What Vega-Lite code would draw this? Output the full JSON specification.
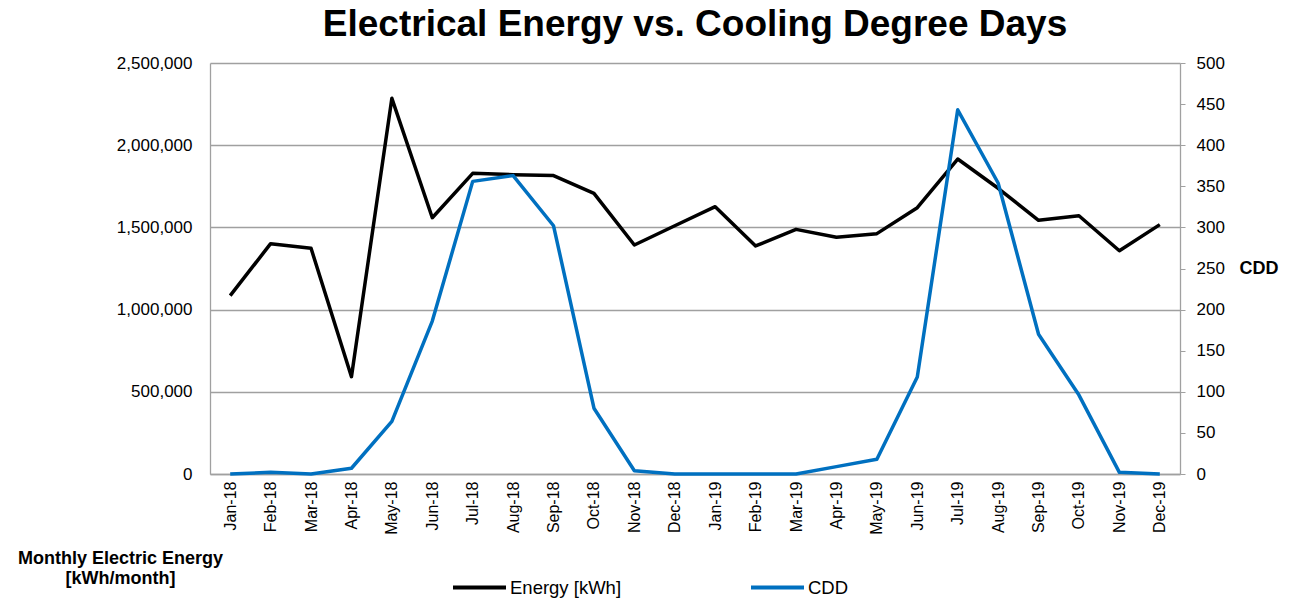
{
  "$schema": "https://vega.github.io/schema/vega-lite/v6.json",
  "width": 970,
  "height": 411,
  "autosize": {"type": "none"},
  "padding": {"left": 210, "top": 63, "right": 126, "bottom": 124},
  "background": "white",
  "title": {
    "text": "Electrical Energy vs. Cooling Degree Days",
    "font": "Liberation Sans",
    "fontSize": 37,
    "fontWeight": "bold",
    "color": "#000000",
    "anchor": "middle",
    "frame": "group",
    "baseline": "bottom",
    "offset": -27
  },
  "config": {
    "view": {"stroke": null},
    "font": "Liberation Sans",
    "axis": {
      "labelFont": "Liberation Sans",
      "labelColor": "#000000",
      "titleFont": "Liberation Sans",
      "titleColor": "#000000",
      "domainColor": "#a0a0a0",
      "domainWidth": 1.3,
      "tickColor": "#a0a0a0",
      "gridColor": "#a0a0a0",
      "gridWidth": 1.3
    }
  },
  "data": {
    "values": [
      {"month": "Jan-18", "energy": 1085000, "cdd": 0},
      {"month": "Feb-18", "energy": 1401000, "cdd": 2},
      {"month": "Mar-18", "energy": 1373000, "cdd": 0},
      {"month": "Apr-18", "energy": 592000, "cdd": 7},
      {"month": "May-18", "energy": 2285000, "cdd": 64},
      {"month": "Jun-18", "energy": 1559000, "cdd": 186},
      {"month": "Jul-18", "energy": 1829000, "cdd": 356},
      {"month": "Aug-18", "energy": 1821000, "cdd": 363},
      {"month": "Sep-18", "energy": 1815000, "cdd": 302},
      {"month": "Oct-18", "energy": 1707000, "cdd": 80},
      {"month": "Nov-18", "energy": 1393000, "cdd": 4},
      {"month": "Dec-18", "energy": 1510000, "cdd": 0},
      {"month": "Jan-19", "energy": 1626000, "cdd": 0},
      {"month": "Feb-19", "energy": 1387000, "cdd": 0},
      {"month": "Mar-19", "energy": 1488000, "cdd": 0},
      {"month": "Apr-19", "energy": 1440000, "cdd": 9},
      {"month": "May-19", "energy": 1462000, "cdd": 18},
      {"month": "Jun-19", "energy": 1620000, "cdd": 118},
      {"month": "Jul-19", "energy": 1916000, "cdd": 443},
      {"month": "Aug-19", "energy": 1738000, "cdd": 354},
      {"month": "Sep-19", "energy": 1543000, "cdd": 170},
      {"month": "Oct-19", "energy": 1571000, "cdd": 96},
      {"month": "Nov-19", "energy": 1358000, "cdd": 2},
      {"month": "Dec-19", "energy": 1517000, "cdd": 0}
    ]
  },
  "encoding": {
    "x": {
      "field": "month",
      "type": "ordinal",
      "sort": null,
      "axis": {
        "title": null,
        "labelAngle": -90,
        "labelAlign": "right",
        "labelBaseline": "middle",
        "labelFontSize": 16,
        "labelPadding": 7,
        "ticks": false,
        "tickSize": 0,
        "grid": false
      }
    }
  },
  "layer": [
    {
      "mark": {"type": "line", "strokeWidth": 3.5, "strokeJoin": "round"},
      "encoding": {
        "y": {
          "field": "energy",
          "type": "quantitative",
          "scale": {"domain": [0, 2500000], "nice": false},
          "axis": {
            "orient": "left",
            "values": [0, 500000, 1000000, 1500000, 2000000, 2500000],
            "format": ",d",
            "labelFontSize": 17,
            "labelPadding": 18,
            "ticks": false,
            "tickSize": 0,
            "grid": true,
            "title": ["Monthly Electric Energy", "[kWh/month]"],
            "titleFontSize": 18,
            "titleFontWeight": "bold",
            "titleAngle": 0,
            "titleAlign": "center",
            "titleBaseline": "alphabetic",
            "titleLineHeight": 20,
            "titleX": -90,
            "titleY": 500
          }
        },
        "color": {
          "datum": "Energy [kWh]",
          "type": "nominal",
          "scale": {"domain": ["Energy [kWh]", "CDD"], "range": ["#000000", "#0070C0"]},
          "legend": {
            "title": null,
            "orient": "none",
            "direction": "horizontal",
            "legendX": 241,
            "legendY": 496,
            "symbolType": "stroke",
            "symbolSize": 2809,
            "symbolStrokeWidth": 4,
            "labelFont": "Liberation Sans",
            "labelFontSize": 18.5,
            "labelColor": "#000000",
            "labelOffset": 2,
            "columnPadding": 121
          }
        }
      }
    },
    {
      "mark": {"type": "line", "strokeWidth": 3.5, "strokeJoin": "round"},
      "encoding": {
        "y": {
          "field": "cdd",
          "type": "quantitative",
          "scale": {"domain": [0, 500], "nice": false},
          "axis": {
            "orient": "right",
            "values": [0, 50, 100, 150, 200, 250, 300, 350, 400, 450, 500],
            "labelFontSize": 17,
            "labelPadding": 11,
            "ticks": true,
            "tickSize": 5,
            "grid": false,
            "title": "CDD",
            "titleFontSize": 18,
            "titleFontWeight": "bold",
            "titleAngle": 0,
            "titleAlign": "left",
            "titleBaseline": "middle",
            "titleX": 59,
            "titleY": 205
          }
        },
        "color": {"datum": "CDD", "type": "nominal"}
      }
    }
  ],
  "resolve": {"scale": {"y": "independent"}}
}
